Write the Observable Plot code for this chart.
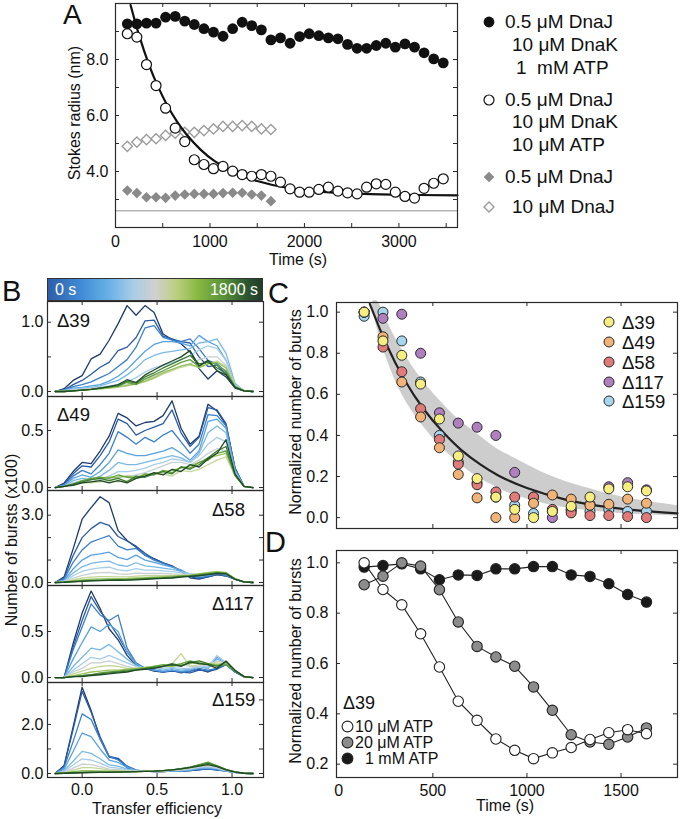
<!DOCTYPE html>
<html><head><meta charset="utf-8">
<script src="https://cdn.jsdelivr.net/npm/d3@7"></script>
<script src="https://cdn.jsdelivr.net/npm/@observablehq/plot@0.6"></script>
<style>
body{margin:0;background:#fff;}
#fig{position:relative;width:680px;height:819px;font-family:"Liberation Sans",Arial,Helvetica,sans-serif;color:#111;overflow:hidden;background:#fff}
</style></head><body><div id="fig"></div><script>
// ---------------- DATA ----------------
// Panel A: Stokes radius vs time
const timeA = [125,226,328,429,530,632,733,834,936,1037,1138,1240,1341,1442,1544,1645,1746,1848,1949,2050,2152,2253,2354,2456,2557,2658,2760,2861,2962,3064,3165,3266,3368,3469];
const radius1mM = [9.27,9.27,9.30,9.30,9.51,9.54,9.37,9.25,9.10,8.98,8.83,9.10,9.33,9.21,9.06,8.70,8.77,8.58,8.82,8.92,8.85,8.77,8.74,8.54,8.40,8.40,8.50,8.58,8.44,8.56,8.44,8.24,8.02,7.88];
const radius10uM = [8.92,8.80,7.82,7.07,6.26,5.55,5.07,4.42,4.25,4.10,4.18,4.01,3.89,3.83,3.89,3.83,3.62,3.38,3.26,3.26,3.36,3.44,3.30,3.24,3.20,3.44,3.56,3.54,3.26,3.11,3.05,3.40,3.58,3.74];
const radiusDnaJlow = [3.32,3.23,3.08,3.08,3.06,3.14,3.18,3.20,3.20,3.20,3.23,3.24,3.24,3.18,3.14,2.94];
const radiusDnaJhigh = [4.90,5.05,5.14,5.17,5.29,5.37,5.40,5.40,5.46,5.52,5.61,5.61,5.64,5.61,5.52,5.50];
const fitATime = [160,250,354,450,550,650,750,900,1050,1250,1500,1800,2200,2700,3200,3620];
const fitARadius = [9.94,8.86,7.82,7.03,6.35,5.79,5.33,4.78,4.37,3.98,3.66,3.43,3.27,3.19,3.16,3.15];
const radiusRef = 2.6;
const legendA = [
  ["0.5 μM DnaJ","10 μM DnaK","1  mM ATP"],
  ["0.5 μM DnaJ","10 μM DnaK","10 μM ATP"],
  ["0.5 μM DnaJ"],
  ["10 μM DnaJ"]
];

// Panel B: transfer-efficiency histograms
const transferE = [-0.18,-0.12,-0.06,0,0.06,0.12,0.18,0.24,0.30,0.36,0.42,0.48,0.54,0.60,0.66,0.72,0.78,0.84,0.90,0.96,1.02,1.08,1.14];
const burstTimes = [0,100,200,300,450,600,800,1000,1200,1400,1600,1800];
const burstColors = ["#1c3a6e","#2a5ba5","#3a7fc9","#58a2df","#7ab9e6","#a6cde8","#c9cfd2","#c3d59a","#98c45e","#63a13d","#3d7a32","#1f4a26"];
const hist39 = [
 [0,0.04,0.16,0.23,0.47,0.54,0.74,0.98,1.24,1.10,1.24,1.14,0.83,0.75,0.69,0.57,0.33,0.18,0.30,0.21,0.05,0.01,0],
 [0,0.02,0.10,0.16,0.25,0.35,0.42,0.59,0.64,0.78,1.02,1.03,0.80,0.76,0.72,0.70,0.50,0.36,0.38,0.25,0.06,0.01,0],
 [0,0.02,0.07,0.10,0.14,0.20,0.26,0.36,0.46,0.64,0.92,0.95,0.78,0.74,0.72,0.76,0.62,0.45,0.40,0.28,0.07,0.01,0],
 [0,0.02,0.05,0.06,0.08,0.10,0.15,0.22,0.32,0.45,0.58,0.68,0.72,0.72,0.70,0.66,0.81,0.72,0.66,0.45,0.10,0.01,0],
 [0,0.01,0.04,0.05,0.06,0.08,0.12,0.16,0.24,0.34,0.46,0.52,0.56,0.58,0.60,0.62,0.70,0.72,0.76,0.55,0.12,0.01,0],
 [0,0.01,0.03,0.04,0.05,0.06,0.08,0.10,0.14,0.20,0.28,0.34,0.38,0.42,0.46,0.52,0.60,0.66,0.62,0.45,0.10,0.01,0],
 [0,0.01,0.02,0.03,0.04,0.05,0.06,0.08,0.10,0.14,0.18,0.22,0.28,0.32,0.36,0.40,0.46,0.50,0.50,0.38,0.09,0.01,0],
 [0,0,0.01,0.02,0.03,0.04,0.05,0.06,0.08,0.11,0.14,0.19,0.25,0.30,0.35,0.38,0.36,0.40,0.44,0.36,0.08,0.01,0],
 [0,0,0.01,0.02,0.03,0.04,0.05,0.07,0.09,0.11,0.15,0.20,0.27,0.32,0.37,0.40,0.34,0.40,0.42,0.34,0.08,0.01,0],
 [0,0,0.01,0.02,0.03,0.05,0.06,0.08,0.13,0.10,0.18,0.24,0.30,0.36,0.42,0.46,0.36,0.44,0.38,0.30,0.07,0.01,0],
 [0,0,0.01,0.02,0.03,0.05,0.07,0.08,0.15,0.12,0.21,0.27,0.34,0.40,0.46,0.52,0.40,0.42,0.34,0.26,0.06,0.01,0],
 [0,0,0.01,0.02,0.03,0.05,0.07,0.10,0.17,0.13,0.24,0.31,0.38,0.44,0.50,0.59,0.37,0.45,0.30,0.24,0.06,0.01,0]
];
const hist49 = [
 [0,0.04,0.14,0.22,0.21,0.32,0.45,0.65,0.61,0.54,0.57,0.58,0.63,0.76,0.52,0.38,0.45,0.73,0.67,0.55,0.17,0.01,0],
 [0,0.03,0.12,0.19,0.18,0.28,0.40,0.60,0.56,0.46,0.50,0.53,0.56,0.68,0.48,0.36,0.44,0.70,0.68,0.56,0.17,0.01,0],
 [0,0.02,0.10,0.15,0.12,0.20,0.30,0.49,0.44,0.38,0.44,0.40,0.46,0.50,0.40,0.30,0.38,0.64,0.63,0.54,0.16,0.01,0],
 [0,0.02,0.08,0.11,0.09,0.14,0.22,0.33,0.30,0.28,0.28,0.30,0.32,0.35,0.30,0.24,0.32,0.58,0.60,0.52,0.15,0.01,0],
 [0,0.01,0.06,0.08,0.07,0.10,0.15,0.22,0.20,0.20,0.22,0.24,0.26,0.28,0.26,0.22,0.30,0.48,0.54,0.48,0.14,0.01,0],
 [0,0.01,0.04,0.06,0.05,0.07,0.10,0.14,0.14,0.15,0.17,0.20,0.22,0.25,0.24,0.22,0.28,0.38,0.44,0.40,0.13,0.01,0],
 [0,0.01,0.03,0.05,0.05,0.06,0.07,0.09,0.10,0.11,0.13,0.16,0.19,0.22,0.22,0.20,0.24,0.30,0.34,0.32,0.12,0.01,0],
 [0,0.01,0.03,0.04,0.04,0.05,0.06,0.05,0.06,0.08,0.10,0.12,0.12,0.10,0.15,0.14,0.16,0.20,0.24,0.27,0.10,0.01,0],
 [0,0.01,0.03,0.05,0.07,0.08,0.09,0.09,0.10,0.09,0.11,0.12,0.14,0.15,0.17,0.19,0.22,0.26,0.28,0.30,0.11,0.01,0],
 [0,0.01,0.03,0.06,0.08,0.09,0.08,0.11,0.09,0.08,0.12,0.11,0.15,0.13,0.18,0.17,0.22,0.24,0.30,0.32,0.11,0.01,0],
 [0,0.01,0.03,0.05,0.07,0.08,0.06,0.08,0.05,0.10,0.09,0.12,0.14,0.12,0.18,0.16,0.20,0.26,0.32,0.36,0.11,0.01,0],
 [0,0.01,0.02,0.04,0.05,0.06,0.04,0.06,0.04,0.08,0.10,0.13,0.11,0.16,0.14,0.20,0.18,0.25,0.30,0.42,0.12,0.01,0]
];
const hist58 = [
 [0,0.25,1.5,2.82,3.34,3.82,3.56,2.31,1.87,1.57,1.21,1.06,0.88,0.74,0.50,0.21,0.15,0.25,0.35,0.29,0.15,0.03,0],
 [0,0.2,1.2,2.0,2.4,2.68,2.55,2.05,1.85,1.62,1.30,1.05,0.88,0.72,0.52,0.25,0.18,0.25,0.35,0.30,0.15,0.03,0],
 [0,0.15,0.9,1.45,1.8,1.95,2.09,1.62,1.45,1.52,1.22,1.0,0.85,0.70,0.55,0.30,0.22,0.28,0.38,0.32,0.15,0.03,0],
 [0,0.1,0.6,1.0,1.22,1.28,1.35,1.12,1.02,1.22,1.0,0.9,0.78,0.68,0.55,0.35,0.28,0.32,0.40,0.35,0.15,0.03,0],
 [0,0.08,0.42,0.70,0.85,0.92,0.95,0.78,0.72,0.88,0.74,0.70,0.64,0.58,0.50,0.38,0.32,0.35,0.42,0.38,0.15,0.03,0],
 [0,0.05,0.30,0.50,0.60,0.65,0.68,0.56,0.52,0.62,0.55,0.55,0.52,0.48,0.44,0.38,0.35,0.40,0.44,0.40,0.16,0.03,0],
 [0,0.04,0.20,0.32,0.40,0.44,0.45,0.38,0.36,0.42,0.40,0.40,0.40,0.38,0.37,0.35,0.38,0.42,0.46,0.42,0.16,0.03,0],
 [0,0.03,0.12,0.20,0.24,0.26,0.26,0.25,0.25,0.28,0.30,0.30,0.31,0.32,0.33,0.33,0.38,0.44,0.48,0.44,0.17,0.03,0],
 [0,0.02,0.08,0.12,0.15,0.16,0.17,0.17,0.18,0.20,0.22,0.24,0.26,0.28,0.30,0.32,0.38,0.44,0.48,0.44,0.17,0.03,0],
 [0,0.02,0.06,0.08,0.10,0.11,0.12,0.13,0.14,0.16,0.18,0.20,0.22,0.25,0.28,0.30,0.36,0.40,0.45,0.42,0.16,0.03,0],
 [0,0.01,0.04,0.06,0.08,0.09,0.10,0.11,0.12,0.14,0.16,0.18,0.20,0.22,0.26,0.28,0.32,0.37,0.42,0.40,0.15,0.03,0],
 [0,0.01,0.03,0.05,0.07,0.08,0.09,0.10,0.11,0.12,0.14,0.16,0.18,0.20,0.24,0.27,0.30,0.35,0.40,0.38,0.14,0.03,0]
];
const hist117 = [
 [0,0,0.37,0.70,0.94,0.75,0.53,0.41,0.24,0.13,0.10,0.07,0.06,0.08,0.05,0.07,0.09,0.06,0.10,0.15,0.06,0.01,0],
 [0,0,0.33,0.62,0.88,0.72,0.60,0.45,0.28,0.15,0.10,0.08,0.06,0.07,0.06,0.05,0.08,0.07,0.09,0.14,0.06,0.01,0],
 [0,0,0.30,0.55,0.80,0.68,0.62,0.68,0.32,0.16,0.10,0.08,0.06,0.08,0.06,0.07,0.10,0.08,0.10,0.14,0.06,0.01,0],
 [0,0,0.20,0.38,0.55,0.50,0.58,0.50,0.28,0.15,0.10,0.08,0.07,0.08,0.07,0.08,0.12,0.10,0.22,0.16,0.07,0.01,0],
 [0,0,0.12,0.22,0.32,0.30,0.36,0.28,0.20,0.13,0.10,0.10,0.08,0.10,0.08,0.09,0.12,0.10,0.20,0.16,0.07,0.01,0],
 [0,0,0.08,0.15,0.22,0.20,0.24,0.20,0.16,0.12,0.10,0.10,0.10,0.11,0.10,0.10,0.12,0.12,0.24,0.16,0.08,0.01,0],
 [0,0,0.06,0.10,0.16,0.16,0.18,0.15,0.12,0.10,0.10,0.10,0.12,0.12,0.14,0.12,0.12,0.14,0.18,0.16,0.08,0.01,0],
 [0,0,0.04,0.07,0.10,0.12,0.13,0.12,0.10,0.10,0.11,0.12,0.13,0.15,0.26,0.12,0.14,0.15,0.16,0.15,0.08,0.01,0],
 [0,0,0.02,0.04,0.06,0.07,0.08,0.08,0.09,0.10,0.11,0.12,0.13,0.12,0.14,0.15,0.16,0.15,0.14,0.15,0.08,0.01,0],
 [0,0,0.01,0.02,0.03,0.05,0.06,0.07,0.08,0.09,0.10,0.12,0.14,0.13,0.15,0.18,0.16,0.14,0.13,0.14,0.07,0.01,0],
 [0,0,0.01,0.02,0.03,0.04,0.05,0.06,0.07,0.08,0.10,0.11,0.12,0.15,0.13,0.16,0.18,0.15,0.12,0.17,0.07,0.01,0],
 [0,0,0.01,0.01,0.02,0.03,0.04,0.05,0.06,0.08,0.09,0.10,0.12,0.14,0.12,0.17,0.15,0.14,0.10,0.18,0.08,0.01,0]
];
const hist159 = [
 [0,0.33,1.9,3.52,2.57,1.41,0.67,0.60,0.23,0.12,0.10,0.08,0.08,0.10,0.10,0.12,0.15,0.20,0.15,0.12,0.05,0.01,0],
 [0,0.30,1.8,3.35,2.50,1.50,0.70,0.62,0.30,0.14,0.10,0.08,0.08,0.10,0.10,0.12,0.16,0.18,0.14,0.10,0.05,0.01,0],
 [0,0.25,1.3,2.43,2.20,1.40,0.70,0.55,0.30,0.14,0.10,0.09,0.09,0.10,0.10,0.13,0.18,0.20,0.16,0.10,0.05,0.01,0],
 [0,0.18,0.9,1.65,1.50,1.00,0.55,0.45,0.25,0.13,0.10,0.09,0.09,0.10,0.11,0.14,0.20,0.22,0.18,0.10,0.05,0.01,0],
 [0,0.12,0.5,0.90,0.82,0.60,0.35,0.30,0.18,0.12,0.10,0.10,0.10,0.11,0.12,0.16,0.22,0.25,0.20,0.12,0.05,0.01,0],
 [0,0.08,0.35,0.60,0.55,0.42,0.26,0.22,0.15,0.11,0.10,0.10,0.10,0.12,0.14,0.18,0.25,0.28,0.22,0.12,0.05,0.01,0],
 [0,0.05,0.22,0.38,0.36,0.28,0.18,0.16,0.12,0.10,0.10,0.10,0.11,0.13,0.16,0.20,0.28,0.30,0.25,0.14,0.06,0.01,0],
 [0,0.03,0.14,0.24,0.24,0.20,0.14,0.12,0.10,0.09,0.09,0.10,0.11,0.14,0.17,0.22,0.30,0.34,0.28,0.16,0.07,0.01,0],
 [0,0.02,0.08,0.12,0.12,0.11,0.10,0.09,0.08,0.08,0.09,0.10,0.12,0.15,0.18,0.24,0.33,0.40,0.30,0.16,0.07,0.01,0],
 [0,0.01,0.04,0.06,0.07,0.07,0.07,0.07,0.07,0.08,0.09,0.10,0.12,0.15,0.20,0.26,0.36,0.46,0.32,0.17,0.07,0.01,0],
 [0,0.01,0.03,0.04,0.05,0.06,0.06,0.06,0.07,0.08,0.09,0.10,0.12,0.15,0.20,0.26,0.34,0.42,0.30,0.16,0.07,0.01,0],
 [0,0.01,0.02,0.03,0.04,0.05,0.05,0.06,0.07,0.08,0.09,0.10,0.12,0.15,0.19,0.24,0.30,0.36,0.28,0.15,0.06,0.01,0]
];
const histNames = ["Δ39","Δ49","Δ58","Δ117","Δ159"];

// Panel C: normalized number of bursts for the variants
const timeCD = [135,235,335,435,535,635,735,835,935,1035,1135,1235,1335,1435,1535,1635];
const norm39 = [1.0,0.86,0.79,0.65,0.48,0.30,0.19,0.10,0.04,0.00,0.03,0.055,0.10,0.14,0.15,0.13];
const norm49 = [1.0,0.88,0.66,0.49,0.34,0.21,0.096,0.0,0.0,0.07,0.11,0.09,0.06,0.065,0.09,0.07];
const norm58 = [1.0,0.83,0.71,0.53,0.38,0.26,0.16,0.125,0.10,0.10,0.04,0.023,0.01,0.01,0.005,0.0];
const norm117 = [1.0,0.97,0.99,0.80,0.51,0.46,0.44,0.40,0.22,0.10,0.00,0.035,0.065,0.15,0.17,0.135];
const norm159 = [0.98,1.0,0.86,0.66,0.40,0.27,0.17,0.10,0.06,0.02,0.03,0.04,0.03,0.04,0.03,0.03];
const variantNames = ["Δ39","Δ49","Δ58","Δ117","Δ159"];
const variantColors = ["#f6ee80","#f1b476","#e07b79","#b07fc0","#a8d6ef"];
const fitCTime = [165,250,350,450,550,650,750,850,1000,1200,1400,1600,1800];
const fitCValue = [1.04,0.85,0.67,0.53,0.42,0.33,0.26,0.204,0.144,0.089,0.055,0.034,0.021];
const bandTime = [175,210,260,335,435,537,633,733,833,933,1133,1335,1533,1800];
const bandLow = [1.047,0.90,0.76,0.60,0.46,0.35,0.27,0.20,0.15,0.11,0.06,0.033,0.018,0.008];
const bandHigh = [1.047,1.047,0.95,0.82,0.68,0.57,0.48,0.41,0.34,0.29,0.20,0.14,0.095,0.058];

// Panel D: Δ39 at three ATP concentrations
const atp10uM = [1.0,0.894,0.833,0.718,0.586,0.45,0.374,0.30,0.255,0.222,0.245,0.266,0.298,0.325,0.337,0.321];
const atp20uM = [0.913,0.947,1.0,0.987,0.893,0.765,0.668,0.626,0.589,0.507,0.414,0.317,0.288,0.279,0.308,0.344];
const atp1mM = [0.983,0.989,0.996,0.976,0.933,0.952,0.950,0.976,0.976,0.985,0.985,0.952,0.946,0.917,0.874,0.844];
const atpNames = ["10 μM ATP","20 μM ATP","1 mM ATP"];

// ---------------- HELPERS ----------------
const fig = document.getElementById("fig");
const FONT = '"Liberation Sans", Arial, Helvetica, sans-serif';
const INK = "#2a2a2a";
const baseStyle = {fontFamily: FONT, fontSize: "16px", color: "#111", background: "transparent", overflow: "visible"};

function addPlot(p, left, top) { p.style.position = "absolute"; p.style.left = left + "px"; p.style.top = top + "px"; p.style.maxWidth = "none"; fig.appendChild(p); }
// y is the vertical centre of the capital letters
function addText(str, x, y, o = {}) {
  const d = document.createElement("div");
  d.textContent = str;
  const fs = o.size || 16;
  const lh = o.lh || fs;
  const top = y - lh / 2 + 0.0115 * fs;
  let tr = o.anchor === "end" ? "transform:translateX(-100%);" : o.anchor === "middle" ? "transform:translateX(-50%);" : "";
  d.style.cssText = `position:absolute;white-space:pre;line-height:${lh}px;height:${lh}px;font-size:${fs}px;left:${x}px;top:${top}px;color:${o.color || "#111"};${tr}`;
  fig.appendChild(d);
}
function addVText(str, x, y, fs = 16) {
  const d = document.createElement("div");
  d.textContent = str;
  d.style.cssText = `position:absolute;white-space:nowrap;line-height:1;font-size:${fs}px;left:${x}px;top:${y}px;transform:translate(-50%,-50%) rotate(-90deg);`;
  fig.appendChild(d);
}
function addSvg(inner, cx, cy, s = 14) {
  const d = document.createElement("div");
  d.style.cssText = `position:absolute;left:${cx - s / 2}px;top:${cy - s / 2}px;width:${s}px;height:${s}px;`;
  d.innerHTML = `<svg width="${s}" height="${s}" viewBox="${-s / 2} ${-s / 2} ${s} ${s}" style="display:block">${inner}</svg>`;
  fig.appendChild(d);
}
function frameTicks(xs, ys, iw, ih, len = 4) {
  const o = {stroke: INK, strokeWidth: 1};
  return [
    Plot.tickX(xs, {x: d => d, insetTop: ih - len, ...o}),
    Plot.tickX(xs, {x: d => d, insetBottom: ih - len, ...o}),
    Plot.tickY(ys, {y: d => d, insetRight: iw - len, ...o}),
    Plot.tickY(ys, {y: d => d, insetLeft: iw - len, ...o})
  ];
}
const idx = n => d3.range(n);

// ---------------- PANEL A ----------------
{
  const W = 460, H = 270, ML = 115, MR = 3, MT = 3, MB = 43;
  const p = Plot.plot({
    width: W, height: H, marginLeft: ML, marginRight: MR, marginTop: MT, marginBottom: MB,
    x: {domain: [0, 3620]}, y: {domain: [2, 10]},
    style: baseStyle,
    marks: [
      Plot.ruleY([radiusRef], {stroke: "#b5b5b5", strokeWidth: 1.4}),
      ...frameTicks(d3.range(500, 3600, 500), d3.range(3, 10, 1), W - ML - MR, H - MT - MB),
      Plot.dot(idx(radiusDnaJlow.length), {x: i => timeA[i], y: i => radiusDnaJlow[i], symbol: "diamond2", r: 4.8, fill: "#8a8a8a"}),
      Plot.dot(idx(radiusDnaJhigh.length), {x: i => timeA[i], y: i => radiusDnaJhigh[i], symbol: "diamond2", r: 4.6, fill: "white", stroke: "#9c9c9c", strokeWidth: 1.4}),
      Plot.line(idx(fitATime.length), {x: i => fitATime[i], y: i => fitARadius[i], stroke: "#111", strokeWidth: 2.2, curve: "natural"}),
      Plot.dot(idx(radius10uM.length), {x: i => timeA[i], y: i => radius10uM[i], r: 5, fill: "white", stroke: "#111", strokeWidth: 1.2}),
      Plot.dot(idx(radius1mM.length), {x: i => timeA[i], y: i => radius1mM[i], r: 5.4, fill: "#111"}),
      Plot.frame({stroke: INK, strokeWidth: 1.2}),
      Plot.axisX({ticks: [0, 1000, 2000, 3000], tickSize: 0, tickPadding: 8, tickFormat: d3.format("d"), label: null}),
      Plot.axisY({ticks: [4, 6, 8], tickSize: 0, tickPadding: 7, tickFormat: d3.format(".1f"), label: null})
    ]
  });
  addPlot(p, 0, 0);
  addVText("Stokes radius (nm)", 75, 113);
  addText("Time (s)", 298, 260, {anchor: "middle", lh: 14});
  addText("A", 63, 15, {size: 28});
  // legend A
  addSvg(`<circle r="5.4" fill="#111"/>`, 489, 22);
  addSvg(`<circle r="5" fill="white" stroke="#111" stroke-width="1.2"/>`, 489, 100);
  addSvg(`<path d="M0,-5.3L5.3,0L0,5.3L-5.3,0Z" fill="#8a8a8a"/>`, 489, 177);
  addSvg(`<path d="M0,-5L5,0L0,5L-5,0Z" fill="white" stroke="#9c9c9c" stroke-width="1.4"/>`, 489, 207);
  const LS = {size: 19, lh: 20};
  addText(legendA[0][0], 505, 22, LS);
  addText(legendA[0][1], 512, 45, LS);
  addText(legendA[0][2], 516, 68, LS);
  addText(legendA[1][0], 505, 100, LS);
  addText(legendA[1][1], 512, 122, LS);
  addText(legendA[1][2], 512, 145, LS);
  addText(legendA[2][0], 505, 177, LS);
  addText(legendA[3][0], 512, 207, LS);
}

// ---------------- PANEL B ----------------
{
  const hists = [hist39, hist49, hist58, hist117, hist159];
  const tops = [301, 396, 490, 585, 682];
  const bottoms = [396, 490, 585, 682, 777];
  const domains = [[-0.072, 1.299], [-0.026, 0.798], [-0.134, 4.10], [-0.054, 1.0], [-0.163, 3.71]];
  const labelTicks = [[0, 1], [0, 0.5], [0, 3], [0, 0.5], [0, 2]];
  const minorTicks = [[0, 0.5, 1], [0, 0.5], [0, 1, 2, 3], [0, 0.5], [0, 1, 2, 3]];
  const W = 266, ML = 47, MR = 3;
  hists.forEach((h, k) => {
    const last = k === hists.length - 1;
    const ih = bottoms[k] - tops[k];
    const MB = last ? 42 : 0;
    const rows = h.flatMap((vals, j) => vals.map((v, i) => ({E: transferE[i], n: v, t: burstTimes[j]})));
    const marks = [
      ...frameTicks([0, 0.5, 1], minorTicks[k], W - ML - MR, ih),
      Plot.line(rows, {x: "E", y: "n", z: "t", stroke: "t", strokeWidth: 1.3}),
      Plot.frame({stroke: INK, strokeWidth: 1.2}),
      Plot.axisY({ticks: labelTicks[k], tickSize: 0, tickPadding: 4, tickFormat: d3.format(".1f"), label: null})
    ];
    if (last) marks.push(Plot.axisX({ticks: [0, 0.5, 1], tickSize: 0, tickPadding: 6, tickFormat: d3.format(".1f"), label: null}));
    const p = Plot.plot({
      width: W, height: ih + MB, marginLeft: ML, marginRight: MR, marginTop: 0, marginBottom: MB,
      x: {domain: [-0.231, 1.21], ...(last ? {} : {axis: null})},
      y: {domain: domains[k]},
      color: {type: "ordinal", domain: burstTimes, range: burstColors},
      style: baseStyle,
      marks
    });
    addPlot(p, 0, tops[k]);
  });
  // colour bar
  const bar = document.createElement("div");
  bar.style.cssText = "position:absolute;left:47px;top:278px;width:216px;height:23px;box-sizing:border-box;border:1px solid #333;" +
    "background:linear-gradient(to right,#2f5ea8 0%,#3f8ad6 15%,#66b0e6 28%,#a9cde6 40%,#d0d0d0 50%,#bccf80 60%,#88b842 70%,#5a9438 82%,#2f5b31 92%,#1f3d27 100%);";
  fig.appendChild(bar);
  addText(burstTimes[0] + " s", 55, 289.5, {color: "#fff", lh: 16});
  addText(burstTimes[burstTimes.length - 1] + " s", 258, 289.5, {color: "#fff", anchor: "end", lh: 16});
  const labX = [57, 57, 212, 212, 212];
  const labY = [321, 415, 510, 604, 700];
  histNames.forEach((n, k) => addText(n, labX[k], labY[k], {size: 18.5}));
  addVText("Number of bursts (x100)", 12, 540);
  addText("Transfer efficiency", 157, 809, {anchor: "middle", lh: 14});
  addText("B", 2, 291, {size: 29});
}

// ---------------- PANEL C ----------------
{
  const W = 400, H = 230, ML = 56, MR = 3, MT = 2, MB = 2;
  const series = [norm159, norm117, norm58, norm49, norm39];
  const cols = [variantColors[4], variantColors[3], variantColors[2], variantColors[1], variantColors[0]];
  const p = Plot.plot({
    width: W, height: H, marginLeft: ML, marginRight: MR, marginTop: MT, marginBottom: MB,
    x: {domain: [-12, 1800], axis: null}, y: {domain: [-0.053, 1.047]},
    style: baseStyle,
    marks: [
      Plot.areaY(idx(bandTime.length), {x: i => bandTime[i], y1: i => bandLow[i], y2: i => bandHigh[i], fill: "#cdcdcd", curve: "natural"}),
      Plot.line(idx(fitCTime.length), {x: i => fitCTime[i], y: i => fitCValue[i], stroke: "#222", strokeWidth: 2.2, curve: "natural"}),
      ...series.map((s, k) => Plot.dot(idx(s.length), {x: i => timeCD[i], y: i => s[i], r: 5, fill: cols[k], stroke: "#2a2a2a", strokeWidth: 1})),
      ...frameTicks([500, 1000, 1500], [0, 0.2, 0.4, 0.6, 0.8, 1.0], W - ML - MR, H - MT - MB),
      Plot.frame({stroke: INK, strokeWidth: 1.2}),
      Plot.axisY({ticks: [0, 0.2, 0.4, 0.6, 0.8, 1.0], tickSize: 0, tickPadding: 8, tickFormat: d3.format(".1f"), label: null})
    ]
  });
  addPlot(p, 280, 300);
  const ly = [322, 342, 362, 382, 401];
  variantNames.forEach((n, k) => {
    addSvg(`<circle r="5" fill="${variantColors[k]}" stroke="#2a2a2a" stroke-width="1"/>`, 609, ly[k]);
    addText(n, 622, ly[k], {size: 18.5, lh: 19});
  });
  addVText("Normalized number of bursts", 296, 412);
  addText("C", 268, 293, {size: 29});
}

// ---------------- PANEL D ----------------
{
  const W = 400, H = 271, ML = 56, MR = 3, MT = 2, MB = 42;
  const series = [atp1mM, atp20uM, atp10uM];
  const fills = ["#1a1a1a", "#8c8c8c", "white"];
  const p = Plot.plot({
    width: W, height: H, marginLeft: ML, marginRight: MR, marginTop: MT, marginBottom: MB,
    x: {domain: [-12, 1800]}, y: {domain: [0.147, 1.049]},
    style: baseStyle,
    marks: [
      ...series.map(s => Plot.line(idx(s.length), {x: i => timeCD[i], y: i => s[i], stroke: "#222", strokeWidth: 1.1})),
      ...series.map((s, k) => Plot.dot(idx(s.length), {x: i => timeCD[i], y: i => s[i], r: 5.2, fill: fills[k], stroke: "#222", strokeWidth: 1.1})),
      ...frameTicks([500, 1000, 1500], [0.2, 0.4, 0.6, 0.8, 1.0], W - ML - MR, H - MT - MB),
      Plot.frame({stroke: INK, strokeWidth: 1.2}),
      Plot.axisX({ticks: [0, 500, 1000, 1500], tickSize: 0, tickPadding: 7, tickFormat: d3.format("d"), label: null}),
      Plot.axisY({ticks: [0.2, 0.4, 0.6, 0.8, 1.0], tickSize: 0, tickPadding: 8, tickFormat: d3.format(".1f"), label: null})
    ]
  });
  addPlot(p, 280, 548);
  addText("Δ39", 343, 703, {size: 18, lh: 16});
  const ly = [726.5, 742.5, 758.5];
  const lf = ["white", "#8c8c8c", "#1a1a1a"];
  const lx = [355, 355, 365];
  atpNames.forEach((n, k) => {
    addSvg(`<circle r="5.4" fill="${lf[k]}" stroke="#222" stroke-width="1.1"/>`, 347, ly[k], 13);
    addText(n, lx[k], ly[k], {size: 16, lh: 14});
  });
  addVText("Normalized number of bursts", 296, 661);
  addText("Time (s)", 505, 806, {anchor: "middle", lh: 12});
  addText("D", 265, 542, {size: 29});
}
</script></body></html>
